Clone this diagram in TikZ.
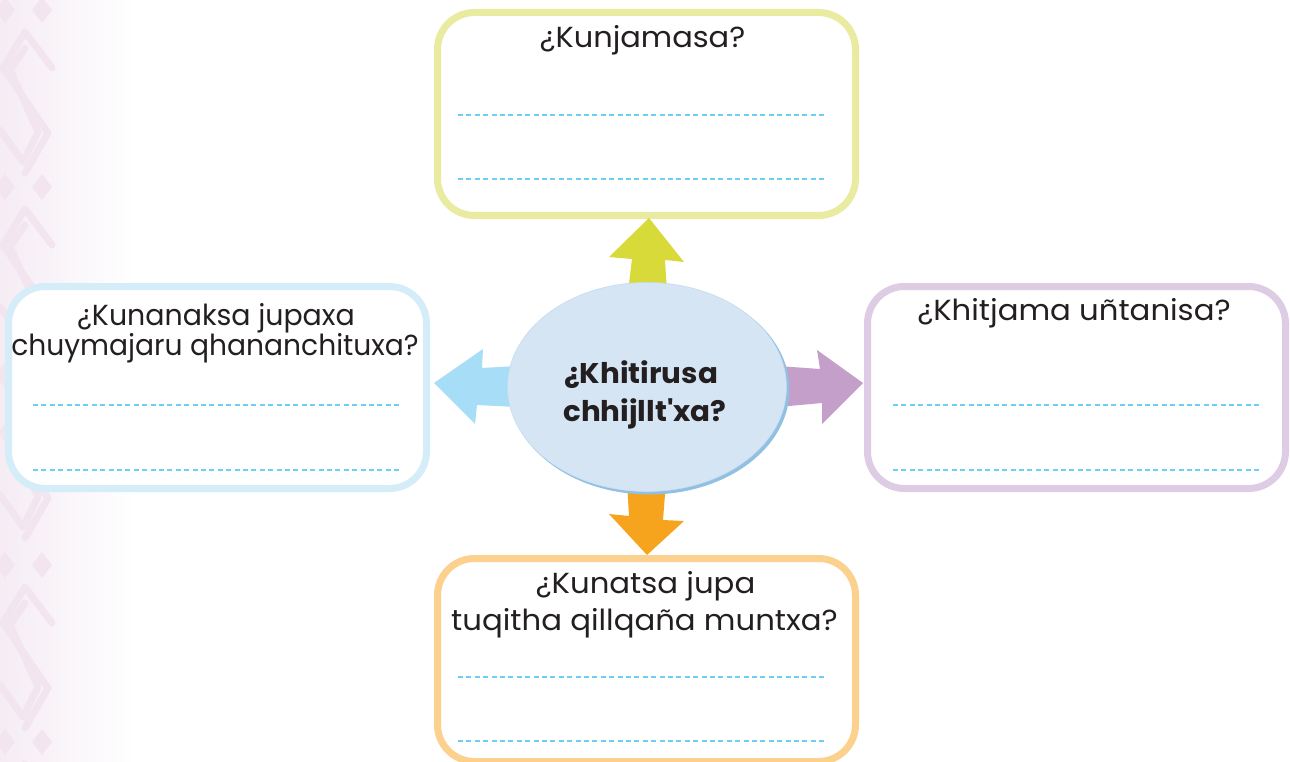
\documentclass[tikz,border=0pt]{standalone}
\usepackage{fontspec}
\usepackage{graphicx}
\setmainfont{Poppins}
\usetikzlibrary{calc,shapes.geometric}
\definecolor{txt}{HTML}{231F20}
\definecolor{bgpink}{HTML}{F5ECF4}
\definecolor{patpink}{HTML}{F2E5F0}
\definecolor{dashblue}{HTML}{6DCFF6}
\definecolor{ybord}{HTML}{E8EBA0}
\definecolor{yarrow}{HTML}{D7DA38}
\definecolor{bbord}{HTML}{D4EDF9}
\definecolor{barrow}{HTML}{A7DDF6}
\definecolor{pbord}{HTML}{DDCCE4}
\definecolor{parrow}{HTML}{C49FCA}
\definecolor{obord}{HTML}{FCD18D}
\definecolor{oarrow}{HTML}{F6A41E}
\definecolor{ellfill}{HTML}{D6E5F3}
\definecolor{ellshadow}{HTML}{92C0E3}
\definecolor{elledge}{HTML}{C4DCF0}
\newcommand{\hs}[2]{\scalebox{#1}[1]{#2}}
\begin{document}
\begin{tikzpicture}[x=1pt,y=-1pt,
  qbox/.style={rectangle, inner sep=0pt, minimum width=418pt, minimum height=203pt,
    line width=7pt, rounded corners=37pt, fill=white},
  dashline/.style={dashblue, line width=1.4pt, dash pattern=on 5pt off 3.4pt},
  lbl/.style={inner sep=0pt, anchor=base, text=txt, font=\fontsize{29}{30}\selectfont},
  ctr/.style={inner sep=0pt, anchor=base, text=txt, font=\fontsize{28.5}{30}\selectfont\bfseries},
  pat/.style={patpink, line width=7pt, line cap=round, line join=round}
]
\useasboundingbox (0,0) rectangle (1290,762);
% background
\fill[white] (0,0) rectangle (1290,762);
\fill[left color=bgpink, right color=white] (0,0) rectangle (135,762);
\begin{scope}
\clip (0,0) rectangle (62,762);
\foreach \yy in {10,187,375,565,742}{
  \fill[patpink] (5,\yy-13) -- (15,\yy) -- (5,\yy+13) -- (-5,\yy) -- cycle;
  \fill[patpink] (42,\yy-13) -- (52,\yy) -- (42,\yy+13) -- (32,\yy) -- cycle;
  \draw[pat] (52,\yy+58) -- (25,\yy+22) -- (3,\yy+58) -- (48,\yy+123) -- (25,\yy+163);
  \draw[pat] (25,\yy+38) -- (10,\yy+60) -- (38,\yy+122) -- (23,\yy+152) -- (0,\yy+120);
}
\end{scope}
% boxes
\node[qbox, draw=ybord] (topbox) at (646.5,114) {};
\node[qbox, draw=bbord, minimum height=202pt] (leftbox) at (217.5,387.5) {};
\node[qbox, draw=pbord, minimum height=202pt] (rightbox) at (1076.5,387.5) {};
\node[qbox, draw=obord] (botbox) at (646.5,660) {};
% dashed writing lines
\draw[dashline] (458,115) -- (826,115);
\draw[dashline] (458,179) -- (826,179);
\draw[dashline] (33,405) -- (400,405);
\draw[dashline] (33,470) -- (400,470);
\draw[dashline] (893,405) -- (1262,405);
\draw[dashline] (893,470) -- (1262,470);
\draw[dashline] (458,677) -- (826,677);
\draw[dashline] (458,741) -- (826,741);
% texts
\node[lbl] (t1) at (642.5,48) {\hs{1.05}{¿Kunjamasa?}};
\node[lbl] (l1) at (216,325) {\hs{0.98}{¿Kunanaksa jupaxa}};
\node[lbl] (l2) at (215,355) {\hs{0.97}{chuymajaru qhananchituxa?}};
\node[lbl] (r1) at (1074,320) {\hs{1.06}{¿Khitjama uñtanisa?}};
\node[lbl] (b1) at (645.5,593) {\hs{1.06}{¿Kunatsa jupa}};
\node[lbl] (b2) at (644.5,630) {\hs{1.06}{tuqitha qillqaña muntxa?}};
% arrows
\fill[yarrow] (628,292) -- (632,259) -- (609,257) -- (649,218) -- (684,262) -- (665,260) -- (667,292) -- cycle;
\fill[oarrow] (627,482) -- (629,516) -- (609,514) -- (647,555) -- (684,521) -- (663,520) -- (666,482) -- cycle;
\fill[barrow] (517,366) -- (482,368) -- (483,349) -- (434,383) -- (475,424) -- (477,405) -- (517,407) -- cycle;
\fill[parrow] (778,366) -- (820,369) -- (817,350) -- (863,383) -- (822,424) -- (822,403) -- (778,407) -- cycle;
% central ellipse
\fill[ellshadow] (649.5,389.5) ellipse [x radius=140pt, y radius=105pt];
\node[ellipse, fill=ellfill, draw=elledge, line width=0.6pt, minimum width=279pt, minimum height=209pt, inner sep=0pt] (center) at (647,387) {};
\node[ctr] (c1) at (641,383) {\hs{1.03}{¿Khitirusa}};
\node[ctr] (c2) at (645,421) {\hs{1.03}{chhijllt\textquotesingle xa?}};
\end{tikzpicture}
\end{document}
